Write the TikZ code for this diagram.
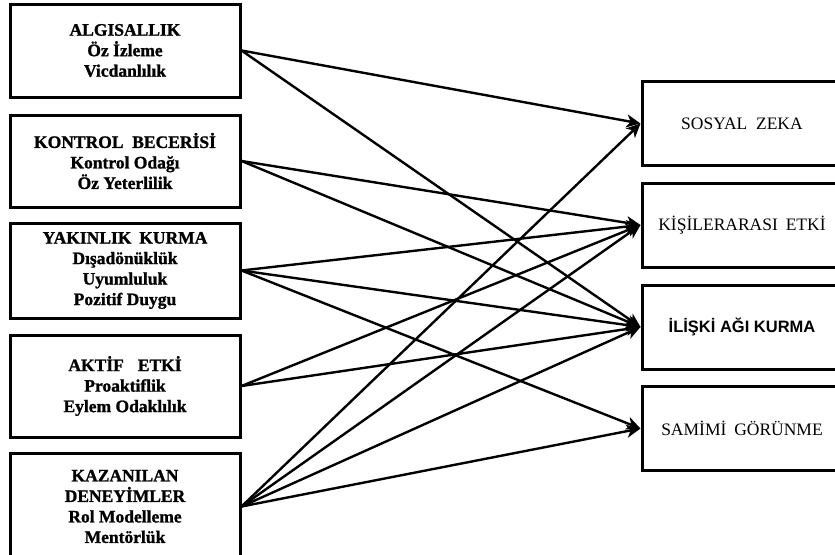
\documentclass[tikz,border=0pt]{standalone}
\usepackage{fontspec}
\setmainfont{Liberation Serif}[BoldFeatures={FakeBold=1.2}]
\newfontfamily\arialbold{Liberation Sans}
\usetikzlibrary{arrows.meta}
\begin{document}
\begin{tikzpicture}[x=1pt,y=-1pt,
  srcbox/.style={draw,line width=3pt,rectangle,minimum width=230pt,align=center,inner sep=0pt,
    font=\fontsize{17.5}{20.5}\selectfont\bfseries},
  dstbox/.style={draw,line width=3pt,rectangle,minimum width=200pt,minimum height=84pt,inner sep=0pt,
    font=\fontsize{17.5}{20}\selectfont},
  link/.style={line width=2.4pt,-{Stealth[length=14pt,width=13pt,inset=4pt]}}]
\useasboundingbox (0,0) rectangle (835,554);
\clip (0,0) rectangle (835,554);

% factor boxes on the left
\node[srcbox,minimum height=93pt]  (alg) at (125,50.5)  {ALGISALLIK\\Öz İzleme\\Vicdanlılık};
\node[srcbox,minimum height=92pt]  (kon) at (125,161)   {KONTROL\hspace{0.5em}BECERİSİ\\Kontrol Odağı\\Öz Yeterlilik};
\node[srcbox,minimum height=95pt]  (yak) at (125,270.5) {YAKINLIK\hspace{0.45em}KURMA\\Dışadönüklük\\Uyumluluk\\Pozitif Duygu};
\node[srcbox,minimum height=102pt] (akt) at (125,386)   {AKTİF\hspace{0.8em}ETKİ\\Proaktiflik\\Eylem Odaklılık};
\node[srcbox,minimum height=107pt] (kaz) at (125,506.5) {KAZANILAN\\DENEYİMLER\\Rol Modelleme\\Mentörlük};

% outcome boxes on the right
\node[dstbox] (sos) at (742,123.5) {SOSYAL\hspace{0.5em}ZEKA};
\node[dstbox] (kis) at (742,225)   {KİŞİLERARASI\hspace{0.45em}ETKİ};
\node[dstbox] (ili) at (742,327)   {\arialbold\bfseries\fontsize{16.5}{20}\selectfont İLİŞKİ AĞI KURMA};
\node[dstbox] (sam) at (742,428.5) {SAMİMİ\hspace{0.45em}GÖRÜNME};

% relations
\draw[link] (alg.east) -- (sos.west);
\draw[link] (alg.east) -- (ili.west);
\draw[link] (kon.east) -- (kis.west);
\draw[link] (kon.east) -- (ili.west);
\draw[link] (yak.east) -- (kis.west);
\draw[link] (yak.east) -- (ili.west);
\draw[link] (yak.east) -- (sam.west);
\draw[link] (akt.east) -- (kis.west);
\draw[link] (akt.east) -- (ili.west);
\draw[link] (kaz.east) -- (sos.west);
\draw[link] (kaz.east) -- (kis.west);
\draw[link] (kaz.east) -- (ili.west);
\draw[link] (kaz.east) -- (sam.west);
\end{tikzpicture}
\end{document}
